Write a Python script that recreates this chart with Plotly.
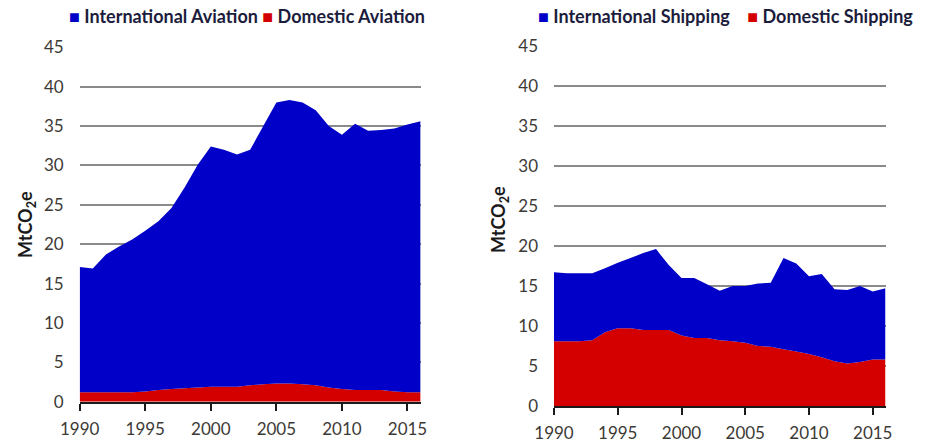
import plotly.graph_objects as go

years = list(range(1990, 2017))

# Aviation (MtCO2e)
aviation_total = [17.1, 16.9, 18.7, 19.7, 20.6, 21.7, 22.9, 24.6, 27.2, 30.1,
                  32.4, 32.0, 31.4, 32.0, 35.0, 38.0, 38.3, 38.0, 37.0, 35.0,
                  33.9, 35.3, 34.4, 34.5, 34.7, 35.2, 35.6]
domestic_aviation = [1.2, 1.2, 1.2, 1.2, 1.2, 1.3, 1.5, 1.6, 1.7, 1.8,
                     1.9, 1.9, 1.9, 2.1, 2.2, 2.3, 2.3, 2.2, 2.1, 1.8,
                     1.6, 1.5, 1.5, 1.5, 1.3, 1.2, 1.2]
international_aviation = [round(t - d, 2) for t, d in zip(aviation_total, domestic_aviation)]

# Shipping (MtCO2e)
shipping_total = [16.7, 16.6, 16.6, 16.6, 17.2, 17.9, 18.5, 19.1, 19.6, 17.6,
                  16.0, 16.0, 15.2, 14.4, 15.0, 15.0, 15.3, 15.4, 18.5, 17.8,
                  16.2, 16.5, 14.6, 14.5, 15.0, 14.3, 14.7]
domestic_shipping = [8.1, 8.1, 8.1, 8.2, 9.2, 9.7, 9.7, 9.5, 9.5, 9.5,
                     8.8, 8.5, 8.5, 8.2, 8.1, 7.9, 7.5, 7.4, 7.1, 6.8,
                     6.5, 6.1, 5.6, 5.3, 5.5, 5.8, 5.8]
international_shipping = [round(t - d, 2) for t, d in zip(shipping_total, domestic_shipping)]

x_ticks = [1990, 1995, 2000, 2005, 2010, 2015]
y_ticks = [0, 5, 10, 15, 20, 25, 30, 35, 40, 45]

BLUE = "#0000c8"
RED = "#d40000"
W, H = 929, 444

fig = go.Figure()

fig.add_trace(go.Scatter(x=years, y=domestic_aviation, name="Domestic Aviation",
                         stackgroup="a", mode="none", fillcolor=RED,
                         xaxis="x", yaxis="y", showlegend=False))
fig.add_trace(go.Scatter(x=years, y=international_aviation, name="International Aviation",
                         stackgroup="a", mode="none", fillcolor=BLUE,
                         xaxis="x", yaxis="y", showlegend=False))
fig.add_trace(go.Scatter(x=years, y=domestic_shipping, name="Domestic Shipping",
                         stackgroup="s", mode="none", fillcolor=RED,
                         xaxis="x2", yaxis="y2", showlegend=False))
fig.add_trace(go.Scatter(x=years, y=international_shipping, name="International Shipping",
                         stackgroup="s", mode="none", fillcolor=BLUE,
                         xaxis="x2", yaxis="y2", showlegend=False))

tickfont = dict(family="Lato, 'Open Sans', sans-serif", size=17, color="#3d3a36")

def xaxis(domain, anchor):
    return dict(domain=domain, anchor=anchor, range=[1990, 2016], tickvals=x_ticks,
                showgrid=False, zeroline=False, showline=True, linecolor="#1a1a1a",
                linewidth=2, ticks="outside", ticklen=7, tickwidth=1.5,
                tickcolor="#1a1a1a", tickfont=tickfont, ticklabelstandoff=4,
                automargin=False, fixedrange=True)

def yaxis(domain, anchor):
    return dict(domain=domain, anchor=anchor, range=[0, 45.1], tickvals=y_ticks,
                showgrid=True, gridcolor="#8a8a8a", gridwidth=1.5, zeroline=False,
                showline=False, ticks="", tickfont=tickfont, ticklabelstandoff=15,
                automargin=False, fixedrange=True)

x1 = [79.7 / W, 420.6 / W]
x2 = [554 / W, 885.5 / W]
y1 = [(H - 401.7) / H, (H - 46.5) / H]
y2 = [(H - 406) / H, (H - 45) / H]

fig.update_layout(
    width=W, height=H,
    margin=dict(l=0, r=0, t=0, b=0),
    paper_bgcolor="white", plot_bgcolor="white",
    showlegend=False,
    xaxis=xaxis(x1, "y"), yaxis=yaxis(y1, "x"),
    xaxis2=xaxis(x2, "y2"), yaxis2=yaxis(y2, "x2"),
)

legfont = dict(family="Lato, 'Open Sans', sans-serif", size=18, color="#1c1c3c")
ann = [
    dict(x=67 / W, y=(H - 16) / H,
         text=f'<b><span style="color:{BLUE}">■</span> International Aviation <span style="color:{RED}">■</span> Domestic Aviation</b>'),
    dict(x=536 / W, y=(H - 16) / H,
         text=f'<b><span style="color:{BLUE}">■</span> International Shipping    <span style="color:{RED}">■</span> Domestic Shipping</b>'),
]
for a in ann:
    fig.add_annotation(xref="paper", yref="paper", xanchor="left", yanchor="middle",
                       showarrow=False, font=legfont, **a)

titlefont = dict(family="Lato, 'Open Sans', sans-serif", size=18, color="#1a1a1a")
for xp, yp in [(26, 225), (499, 220)]:
    fig.add_annotation(xref="paper", yref="paper", x=xp / W, y=(H - yp) / H,
                       text="<b>MtCO<sub>2</sub>e</b>", textangle=-90, showarrow=False,
                       xanchor="center", yanchor="middle", font=titlefont)

fig.write_html("out.html", config={"displayModeBar": False},
               post_script="document.body.style.margin='0';document.body.style.padding='0';")
